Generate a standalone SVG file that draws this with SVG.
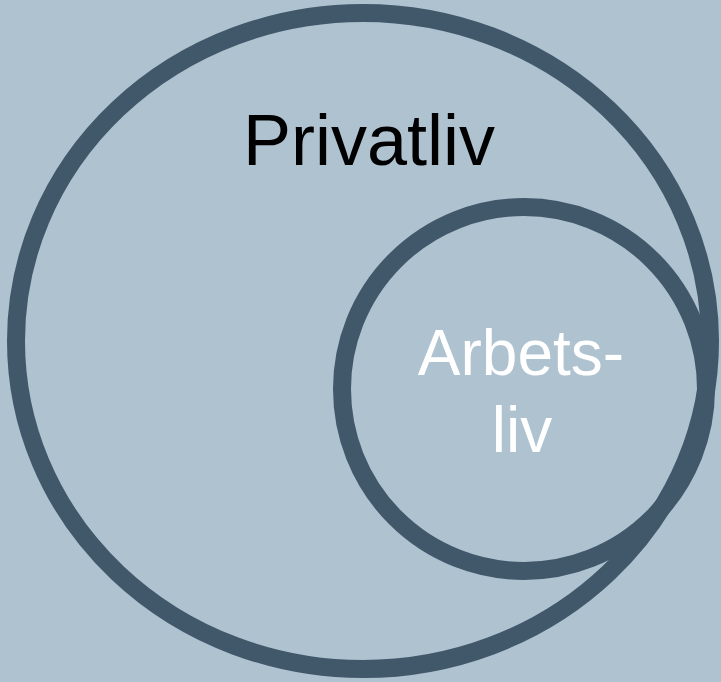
<svg xmlns="http://www.w3.org/2000/svg" width="721" height="682" viewBox="0 0 721 682">
<style>
.ring{fill:none;stroke:#41576A;stroke-width:18}
.lbl{font-family:"Liberation Sans",Arial,sans-serif;text-anchor:middle}
</style>
<rect width="721" height="682" fill="#AEC2D0"/>
<g id="privatliv">
<ellipse class="ring" cx="363" cy="341" rx="347" ry="328"/>
<text class="lbl" x="369" y="165" font-size="72" fill="#000">Privatliv</text>
</g>
<g id="arbetsliv">
<circle class="ring" cx="524" cy="389" r="182"/>
<text class="lbl" x="521" y="375" font-size="64" fill="#FFFFFF">Arbets-</text>
<text class="lbl" x="522" y="452" font-size="64" fill="#FFFFFF">liv</text>
</g>
<g id="connectors"/>
</svg>
